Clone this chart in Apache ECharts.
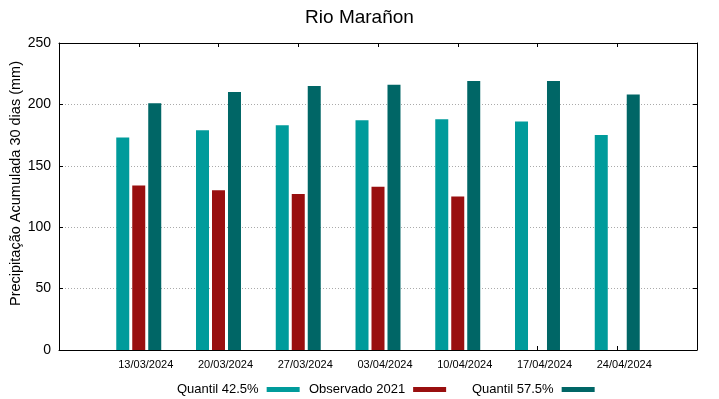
<!DOCTYPE html>
<html>
<head>
<meta charset="utf-8">
<script src="https://cdn.jsdelivr.net/npm/echarts@6/dist/echarts.min.js"></script>
<style>
html,body{margin:0;padding:0;background:#fff;}
#chart{width:719px;height:399px;}
</style>
</head>
<body>
<div id="chart"></div>
<script>
var title = 'Rio Marañon';
var yAxisName = 'Precipitação Acumulada 30 dias (mm)';
var categories = ['', '13/03/2024', '20/03/2024', '27/03/2024', '03/04/2024', '10/04/2024', '17/04/2024', '24/04/2024', ''];
var seriesNames = ['Quantil 42.5%', 'Observado 2021', 'Quantil 57.5%'];
var quantil425 = ['-', 173, 179, 183, 187, 188, 186, 175, '-'];
var observado2021 = ['-', 134, 130, 127, 133, 125, '-', '-', '-'];
var quantil575 = ['-', 201, 210, 215, 216, 219, 219, 208, '-'];
var yTicks = [0, 50, 100, 150, 200, 250];

var colors = ['#009b9b', '#990f0f', '#006666'];
var font = 'Liberation Sans, Arial, sans-serif';

var chart = echarts.init(document.getElementById('chart'), null, {renderer: 'canvas'});

function legendFor(i, left) {
  return {
    data: [seriesNames[i]],
    left: left,
    top: 383,
    align: 'right',
    orient: 'horizontal',
    itemWidth: 33,
    itemHeight: 5,
    icon: 'rect',
    selectedMode: false,
    padding: 0,
    textStyle: {fontFamily: font, fontSize: 13, color: '#000', padding: [0, 3, 0, 0]}
  };
}

var frameLine = {show: true, onZero: false, lineStyle: {color: '#000', width: 1}};
var tick = {show: true, inside: true, length: 4, lineStyle: {color: '#000'}};

var option = {
  animation: false,
  backgroundColor: '#fff',
  title: {
    text: title,
    left: 'center',
    top: 3,
    textStyle: {fontFamily: font, fontSize: 19, fontWeight: 'normal', color: '#000'}
  },
  legend: [legendFor(0, 177), legendFor(1, 309), legendFor(2, 472)],
  grid: {left: 59, right: 22, top: 43, bottom: 49, containLabel: false, outerBoundsMode: 'none'},
  xAxis: [{
    type: 'category',
    data: categories,
    boundaryGap: false,
    position: 'bottom',
    axisLine: frameLine,
    axisTick: Object.assign({interval: 0}, tick),
    axisLabel: {interval: 0, margin: 9, fontFamily: font, fontSize: 11, color: '#000', padding: [0, 0, 0, 14]},
    splitLine: {show: false}
  }, {
    type: 'category',
    data: categories,
    boundaryGap: false,
    position: 'top',
    axisLine: frameLine,
    axisTick: Object.assign({interval: 0}, tick),
    axisLabel: {show: false},
    splitLine: {show: false}
  }],
  yAxis: [{
    type: 'value',
    min: yTicks[0],
    max: yTicks[yTicks.length - 1],
    interval: 50,
    position: 'left',
    name: yAxisName,
    nameLocation: 'middle',
    nameGap: 36,
    nameMoveOverlap: false,
    nameTextStyle: {fontFamily: font, fontSize: 14.5, color: '#000', padding: [0, 0, 0, 26]},
    axisLine: frameLine,
    axisTick: tick,
    axisLabel: {fontFamily: font, fontSize: 14, color: '#000', margin: 8},
    splitLine: {show: true, lineStyle: {color: '#aaa', type: [1, 2], width: 1}}
  }, {
    type: 'value',
    min: yTicks[0],
    max: yTicks[yTicks.length - 1],
    interval: 50,
    position: 'right',
    axisLine: frameLine,
    axisTick: tick,
    axisLabel: {show: false},
    splitLine: {show: false}
  }],
  series: [{
    name: seriesNames[0],
    type: 'bar',
    data: quantil425,
    barWidth: 13,
    barGap: '23%',
    itemStyle: {color: colors[0]}
  }, {
    name: seriesNames[1],
    type: 'bar',
    data: observado2021,
    barWidth: 13,
    barGap: '23%',
    itemStyle: {color: colors[1]}
  }, {
    name: seriesNames[2],
    type: 'bar',
    data: quantil575,
    barWidth: 13,
    barGap: '23%',
    itemStyle: {color: colors[2]}
  }]
};
chart.setOption(option);
</script>
</body>
</html>
